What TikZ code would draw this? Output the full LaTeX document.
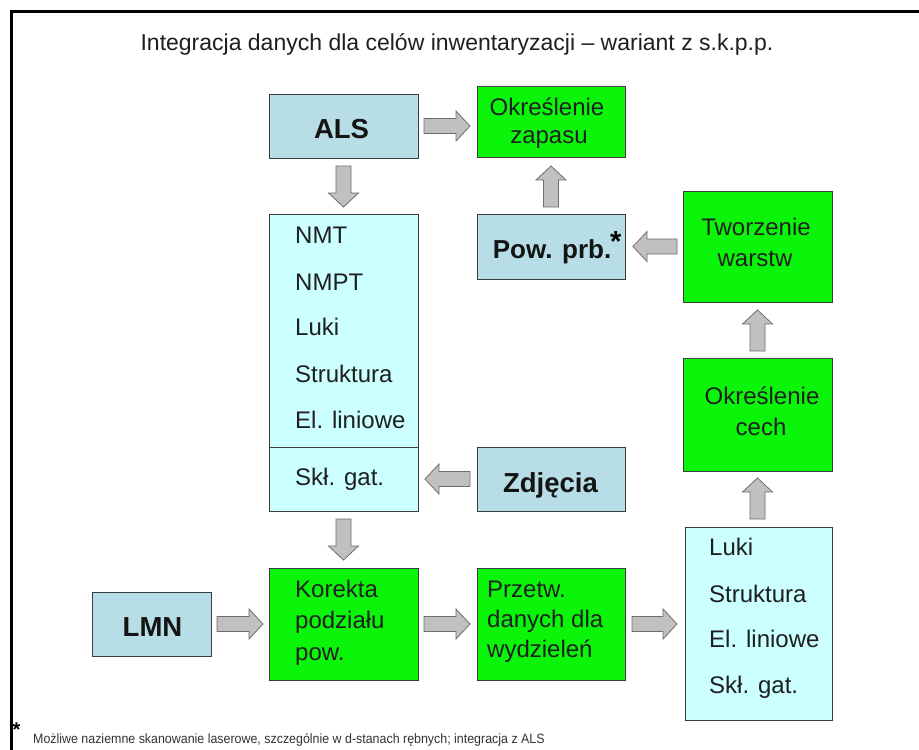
\documentclass[tikz,border=0pt]{standalone}
\usepackage{fontspec}
\setmainfont{Liberation Sans}
\usetikzlibrary{calc}
\definecolor{boxblue}{RGB}{183,221,230}
\definecolor{listcyan}{RGB}{204,255,255}
\definecolor{boxgreen}{RGB}{10,245,10}
\definecolor{arrfill}{RGB}{192,192,192}
\definecolor{arrline}{RGB}{110,110,110}
\definecolor{boxline}{RGB}{60,60,60}
\tikzset{
 box/.style={draw=boxline, line width=0.9pt, inner sep=0pt, outer sep=0pt, rectangle},
 bluebox/.style={box, fill=boxblue},
 greenbox/.style={box, fill=boxgreen},
 listbox/.style={box, fill=listcyan},
 txt/.style={inner sep=0pt, font=\fontsize{24}{29}\selectfont, text=black!88},
 btxt/.style={inner sep=0pt, font=\fontsize{27.5}{32}\selectfont\bfseries, text=black!92},
 barrowstyle/.style={fill=arrfill, draw=arrline, line width=0.8pt, line join=miter},
}
\newcommand\blockarrow[2]{%
 \coordinate (bh) at ($(#2)!14pt!(#1)$);
 \draw[barrowstyle] ($(#1)!7.5pt!90:(#2)$) -- ($(bh)!7.5pt!90:(#2)$) -- ($(bh)!15pt!90:(#2)$) -- (#2)
   -- ($(bh)!15pt!-90:(#2)$) -- ($(bh)!7.5pt!-90:(#2)$) -- ($(#1)!7.5pt!-90:(#2)$) -- cycle;
}
\begin{document}
\begin{tikzpicture}[x=1pt,y=-1pt]
\useasboundingbox (0,0) rectangle (919,750);
\fill[white] (0,0) rectangle (919,750);
\draw[line width=2.5pt] (11.3,760) -- (11.3,11.3) -- (930,11.3);

\node[inner sep=0pt, anchor=base, font=\fontsize{23}{26}\selectfont, text=black!88] (title) at (457,50)
  {Integracja danych dla celów inwentaryzacji – wariant z s.k.p.p.};

% boxes
\node[bluebox, minimum width=149, minimum height=64] (als) at (343.5,126) {};
\node[greenbox, minimum width=148, minimum height=71] (okz) at (551,121.5) {};
\node[listbox, minimum width=149, minimum height=297] (list) at (343.5,362.5) {};
\node[bluebox, minimum width=148, minimum height=65] (pow) at (551,246.5) {};
\node[bluebox, minimum width=148, minimum height=64] (zdj) at (551,479) {};
\node[greenbox, minimum width=149, minimum height=111] (tw) at (757.5,246.5) {};
\node[greenbox, minimum width=149, minimum height=113] (okc) at (757.5,414.5) {};
\node[greenbox, minimum width=149, minimum height=112] (kor) at (343.5,624) {};
\node[bluebox, minimum width=119, minimum height=64] (lmn) at (151.5,624) {};
\node[greenbox, minimum width=148, minimum height=112] (prz) at (551,624) {};
\node[listbox, minimum width=147, minimum height=193] (rl) at (758.5,623.5) {};
\coordinate (sep) at (0,447);
\draw[boxline, line width=0.9pt] (list.west |- sep) -- (list.east |- sep);

% texts
\node[btxt, anchor=base] (alst) at (341.5,138) {ALS};
\node[btxt, anchor=base] (lmnt) at (152.5,636) {LMN};
\node[btxt, anchor=base] (zdjt) at (550.5,492) {Zdjęcia};
\node[btxt, anchor=base, font=\fontsize{26}{30}\selectfont\bfseries] (powt) at (552,258) {Pow. prb.};
\node[inner sep=0pt, anchor=base west, xshift=-1.5pt, font=\fontsize{29}{29}\selectfont\bfseries] (powstar) at (powt.base east) {\raisebox{7pt}{*}};

\node[txt, anchor=base] (okz1) at (547,115) {Określenie};
\node[txt, anchor=base] (okz2) at (549,143) {zapasu};
\node[txt, anchor=base] (tw1) at (756,235) {Tworzenie};
\node[txt, anchor=base] (tw2) at (755,266) {warstw};
\node[txt, anchor=base] (okc1) at (762,404) {Określenie};
\node[txt, anchor=base] (okc2) at (761,435) {cech};

\node[txt, anchor=base west] (l1) at (295,243) {NMT};
\node[txt, anchor=base west] (l2) at (295,290) {NMPT};
\node[txt, anchor=base west] (l3) at (295,335) {Luki};
\node[txt, anchor=base west] (l4) at (295,382) {Struktura};
\node[txt, anchor=base west] (l5) at (295,428) {El. liniowe};
\node[txt, anchor=base west] (l6) at (295,485) {Skł. gat.};

\node[txt, anchor=base west] (r1) at (709,555) {Luki};
\node[txt, anchor=base west] (r2) at (709,602) {Struktura};
\node[txt, anchor=base west] (r3) at (709,647) {El. liniowe};
\node[txt, anchor=base west] (r4) at (709,693) {Skł. gat.};

\node[txt, anchor=base west] (k1) at (295,597) {Korekta};
\node[txt, anchor=base west] (k2) at (295,628) {podziału};
\node[txt, anchor=base west] (k3) at (295,660) {pow.};

\node[txt, anchor=base west] (p1) at (487,597) {Przetw.};
\node[txt, anchor=base west] (p2) at (487,627) {danych dla};
\node[txt, anchor=base west] (p3) at (487,657) {wydzieleń};

% arrows
\coordinate (a1s) at ($(als.east)+(6,0)$);
\coordinate (a1e) at ($(okz.west |- als.east)+(-7,0)$);
\coordinate (a2s) at ($(als.south)+(0,8)$);
\coordinate (a2e) at ($(list.north)+(0,-7)$);
\coordinate (a3s) at ($(list.south)+(0,8)$);
\coordinate (a3e) at ($(kor.north)+(0,-8)$);
\coordinate (a4s) at ($(lmn.east)+(6,0)$);
\coordinate (a4e) at ($(kor.west)+(-6,0)$);
\coordinate (a5s) at ($(kor.east)+(6,0)$);
\coordinate (a5e) at ($(prz.west)+(-7,0)$);
\coordinate (a6s) at ($(prz.east)+(7,0)$);
\coordinate (a6e) at ($(rl.west |- prz.east)+(-8,0)$);
\coordinate (a7s) at ($(okc.south |- rl.north)+(0,-8)$);
\coordinate (a7e) at ($(okc.south)+(0,7)$);
\coordinate (a8s) at ($(okc.north)+(0,-7)$);
\coordinate (a8e) at ($(tw.south)+(0,8)$);
\coordinate (a9s) at ($(tw.west)+(-6,0)$);
\coordinate (a9e) at ($(pow.east |- tw.west)+(8,0)$);
\coordinate (a10s) at ($(pow.north)+(0,-7)$);
\coordinate (a10e) at ($(okz.south)+(0,9)$);
\coordinate (a11s) at ($(zdj.west)+(-7,0)$);
\coordinate (a11e) at ($(list.east |- zdj.west)+(7,0)$);
\blockarrow{a1s}{a1e}
\blockarrow{a2s}{a2e}
\blockarrow{a3s}{a3e}
\blockarrow{a4s}{a4e}
\blockarrow{a5s}{a5e}
\blockarrow{a6s}{a6e}
\blockarrow{a7s}{a7e}
\blockarrow{a8s}{a8e}
\blockarrow{a9s}{a9e}
\blockarrow{a10s}{a10e}
\blockarrow{a11s}{a11e}

% footnote
\node[inner sep=0pt, anchor=base west, font=\fontsize{20}{20}\selectfont\bfseries] (fstar) at (12.5,736) {*};
\node[inner sep=0pt, anchor=base west, xscale=0.92, transform shape, font=\fontsize{13.5}{15}\selectfont, text=black!80] (fnote) at (33,743)
  {Możliwe naziemne skanowanie laserowe, szczególnie w d-stanach rębnych; integracja z ALS};
\end{tikzpicture}
\end{document}
